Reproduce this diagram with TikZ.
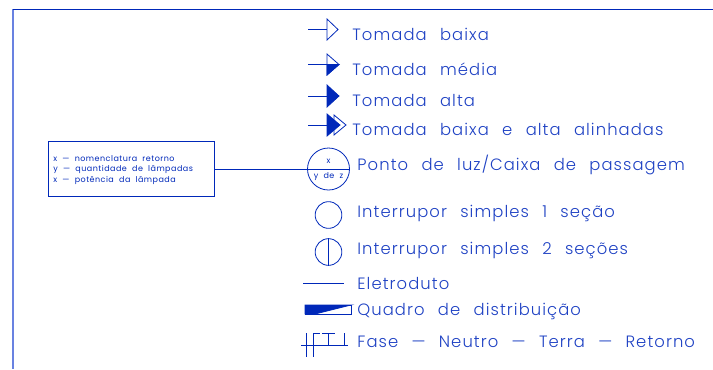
\documentclass[tikz,border=0pt]{standalone}
\usepackage{fontspec}
\setmainfont[LetterSpace=6.5,WordSpace=2.4]{Poppins Light}
\newfontfamily\notefont[LetterSpace=6,WordSpace=2]{Poppins}
\usepackage{xcolor}
\usepackage{tikz}
\definecolor{cadblue}{RGB}{0,40,185}
\definecolor{labelblue}{RGB}{30,65,195}
\definecolor{frameblue}{RGB}{105,130,225}
\begin{document}
\begin{tikzpicture}[x=0.75pt, y=-0.75pt,
	every path/.style={draw=cadblue, line width=0.6pt},
	legend/.style={anchor=base west, inner sep=0pt, text=labelblue, font=\fontsize{12.3}{12}\selectfont},
	note/.style={anchor=base west, inner sep=0pt, text=cadblue, font=\notefont\fontsize{6}{6}\selectfont},
	small/.style={inner sep=0pt, text=cadblue, font=\notefont\fontsize{6}{6}\selectfont}]
	\useasboundingbox[draw=none] (0,0) rectangle (713,369);
	% Frame
	\draw[frameblue, line width=1pt] (13,9) -- (13,369);
	\draw (13,9) -- (713,9);
	% Nodes
	\node[draw=cadblue, minimum width=124.5pt, minimum height=41.25pt, inner sep=0pt] (box) at (131.75,169) {};
	\node[note] (n1) at (53,161) {x — nomenclatura retorno};
	\node[note] (n2) at (53,171) {y — quantidade de lâmpadas};
	\node[note] (n3) at (53,182) {x — potência da lâmpada};
	\node[circle, draw=cadblue, minimum size=31.5pt, inner sep=0pt] (luz) at (328.5,169) {};
	\node[small] (lx) at (328.5,161) {x};
	\node[small] (lz) at (328.5,177) {y de z};
	\node[circle, draw=cadblue, minimum size=20pt, inner sep=0pt] (s1) at (328.5,215) {};
	\node[circle, draw=cadblue, minimum size=20pt, inner sep=0pt] (s2) at (328.5,252) {};
	\node[legend] (t1) at (352,40) {Tomada baixa};
	\node[legend] (t2) at (352,75) {Tomada média};
	\node[legend] (t3) at (352,106) {Tomada alta};
	\node[legend] (t4) at (352,135) {Tomada baixa e alta alinhadas};
	\node[legend] (t5) at (357,170) {Ponto de luz/Caixa de passagem};
	\node[legend] (t6) at (357,217) {Interrupor simples 1 seção};
	\node[legend] (t7) at (357,254) {Interrupor simples 2 seções};
	\node[legend] (t8) at (357,289) {Eletroduto};
	\node[legend] (t9) at (357,315) {Quadro de distribuição};
	\node[legend] (t10) at (357,347) {Fase — Neutro — Terra — Retorno};
	% Sockets
	\draw (308,29) -- (327,29);
	\draw (327,19) -- (338,29.5) -- (327,40) -- cycle;
	\draw (308,64) -- (327,64);
	\draw (327,54) -- (339,64.5) -- (327,75) -- cycle;
	\fill[cadblue] (327,64.5) -- (339,64.5) -- (327,75) -- cycle;
	\draw (308,96) -- (327,96);
	\fill[cadblue] (327,85) -- (339,96) -- (327,107) -- cycle;
	\draw (308,125) -- (327,125);
	\fill[cadblue] (327,114) -- (340,125) -- (327,136) -- cycle;
	\draw (334,115) -- (346,125) -- (334,135) -- cycle;
	% Edges
	\draw (box.east) -- (luz.west);
	\draw (luz.west) -- (luz.east);
	\draw (s2.north) -- (s2.south);
	% Conduit and panel
	\draw (303,283) -- (344,283);
	\draw (305,305) rectangle (351,314);
	\fill[cadblue] (305,305) -- (351,305) -- (315,314) -- (305,314) -- cycle;
	% Wires
	\draw (301,345) -- (348,345);
	\draw (306,333) -- (306,357);
	\draw (313,333) -- (313,357);
	\draw (313,333) -- (320,333);
	\draw (322,333) -- (335,333);
	\draw (328,333) -- (328,345);
	\draw (344,333) -- (344,345);
\end{tikzpicture}
\end{document}
